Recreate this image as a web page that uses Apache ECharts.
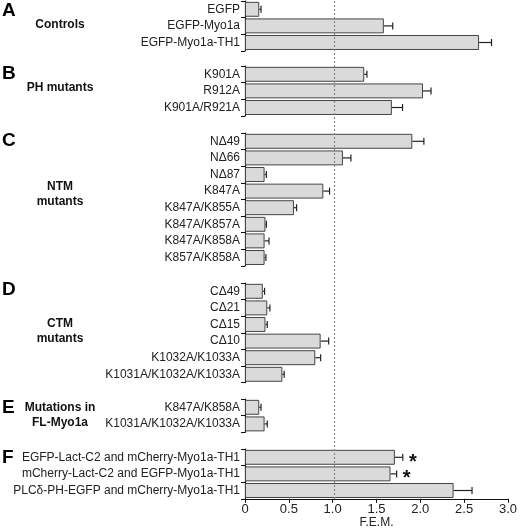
<!DOCTYPE html>
<html>
<head>
<meta charset="utf-8">
<script src="https://cdn.jsdelivr.net/npm/echarts@6/dist/echarts.min.js"></script>
<style>html,body{margin:0;padding:0;background:#fff;}#c{width:520px;height:530px;}</style>
</head>
<body>
<div id="c"></div>
<script>
// ---- Data ----
const catsA = ['EGFP', 'EGFP-Myo1a', 'EGFP-Myo1a-TH1'];
const valsA = [0.16, 1.56, 2.63];
const errsA = [0.02, 0.10, 0.14];

const catsB = ['K901A', 'R912A', 'K901A/R921A'];
const valsB = [1.34, 2.00, 1.65];
const errsB = [0.03, 0.09, 0.12];

const catsC = ['N\u039449', 'N\u039466', 'N\u039487', 'K847A', 'K847A/K855A', 'K847A/K857A', 'K847A/K858A', 'K857A/K858A'];
const valsC = [1.88, 1.10, 0.22, 0.88, 0.55, 0.23, 0.22, 0.22];
const errsC = [0.13, 0.09, 0.02, 0.07, 0.03, 0.01, 0.05, 0.015];

const catsD = ['C\u039449', 'C\u039421', 'C\u039415', 'C\u039410', 'K1032A/K1033A', 'K1031A/K1032A/K1033A'];
const valsD = [0.20, 0.25, 0.23, 0.85, 0.79, 0.42];
const errsD = [0.02, 0.03, 0.02, 0.09, 0.06, 0.02];

const catsE = ['K847A/K858A', 'K1031A/K1032A/K1033A'];
const valsE = [0.16, 0.22];
const errsE = [0.02, 0.03];

const catsF = ['EGFP-Lact-C2 and mCherry-Myo1a-TH1', 'mCherry-Lact-C2 and EGFP-Myo1a-TH1', 'PLC\u03b4-PH-EGFP and mCherry-Myo1a-TH1'];
const valsF = [1.71, 1.66, 2.38];
const errsF = [0.09, 0.07, 0.21];
const sigF = ['*', '*', ''];

const panelLetters = ['A', 'B', 'C', 'D', 'E', 'F'];
const groupNames = ['Controls', 'PH mutants', 'NTM\nmutants', 'CTM\nmutants', 'Mutations in\nFL-Myo1a', ''];
const xTicks = [0, 0.5, 1.0, 1.5, 2.0, 2.5, 3.0];
const xAxisName = 'F.E.M.';
const refLine = 1.0;

// ---- Build ----
const cats = [catsA, catsB, catsC, catsD, catsE, catsF];
const vals = [valsA, valsB, valsC, valsD, valsE, valsF];
const errs = [errsA, errsB, errsC, errsD, errsE, errsF];
const sigs = [[], [], [], [], [], sigF];

const gridTops = [1, 66, 133, 283, 399, 449];
const band = 16.6;
const gridLeft = 245, gridRight = 8;
const FONT = 'Liberation Sans, Arial, sans-serif';

const grids = [], xAxes = [], yAxes = [], series = [];
cats.forEach((c, i) => {
  grids.push({ left: gridLeft, right: gridRight, top: gridTops[i], height: band * c.length, containLabel: false });
  const isLast = i === cats.length - 1;
  xAxes.push({
    type: 'value', gridIndex: i, min: xTicks[0], max: xTicks[xTicks.length - 1], interval: xTicks[1] - xTicks[0],
    show: isLast,
    name: isLast ? xAxisName : '', nameLocation: 'middle', nameGap: 17,
    nameTextStyle: { color: '#222', fontSize: 12, fontFamily: FONT },
    axisLine: { show: isLast, lineStyle: { color: '#111', width: 1.2 } },
    axisTick: { show: isLast, length: 4, lineStyle: { color: '#111' } },
    splitLine: { show: false },
    axisLabel: {
      show: isLast, color: '#222', fontSize: 13, fontFamily: FONT, margin: 4,
      formatter: v => (v === 0 ? '0' : v.toFixed(1))
    }
  });
  yAxes.push({
    type: 'category', gridIndex: i, data: c, inverse: true,
    axisLine: { show: true, lineStyle: { color: '#111', width: 1.2 } },
    axisTick: { show: true, length: 4, lineStyle: { color: '#111' } },
    axisLabel: { color: '#222', fontSize: 12, fontFamily: FONT, margin: 5 },
    splitLine: { show: false }
  });
  series.push({
    type: 'bar', xAxisIndex: i, yAxisIndex: i, data: vals[i], barCategoryGap: '10%',
    itemStyle: { color: '#dadada', borderColor: '#444', borderWidth: 1 },
    silent: true, animation: false
  });
  const ed = vals[i].map((v, k) => [v, k, errs[i][k], sigs[i][k] || '']);
  series.push({
    type: 'custom', xAxisIndex: i, yAxisIndex: i, data: ed, animation: false, silent: true,
    encode: { x: 0, y: 1 },
    renderItem: function (params, api) {
      const v = api.value(0), k = api.value(1), e = api.value(2);
      const p0 = api.coord([v, k]);
      const p1 = api.coord([v + e, k]);
      const capH = 3.5;
      const children = [
        { type: 'line', shape: { x1: p0[0], y1: p0[1], x2: p1[0], y2: p1[1] }, style: { stroke: '#222', lineWidth: 1.2 } },
        { type: 'line', shape: { x1: p1[0], y1: p1[1] - capH, x2: p1[0], y2: p1[1] + capH }, style: { stroke: '#222', lineWidth: 1.2 } }
      ];
      const s = ed[params.dataIndex][3];
      if (s) {
        children.push({ type: 'text', style: { text: s, x: p1[0] + 10, y: p1[1] + 5, font: 'bold 20px ' + FONT, fill: '#111', textAlign: 'center', textVerticalAlign: 'middle' } });
      }
      return { type: 'group', children: children };
    }
  });
});

// overlay grid for continuous dotted reference line
grids.push({ left: gridLeft, right: gridRight, top: 0, bottom: 530 - 499 });
xAxes.push({ type: 'value', gridIndex: 6, min: 0, max: 3, show: false, splitLine: { show: false } });
yAxes.push({ type: 'value', gridIndex: 6, min: 0, max: 1, show: false, splitLine: { show: false } });
series.push({
  type: 'line', xAxisIndex: 6, yAxisIndex: 6, data: [], silent: true, animation: false,
  markLine: {
    symbol: 'none', silent: true, animation: false, label: { show: false },
    lineStyle: { color: '#888', type: [2, 2], width: 1.2 },
    data: [{ xAxis: refLine }]
  }
});

// panel letters & group labels
const letterY = [11, 74, 141, 290, 408, 458];
const groupY = [25, 88, 194, 331, 415, 0];
const graphics = [];
panelLetters.forEach((L, i) => {
  graphics.push({ type: 'text', left: 2, top: letterY[i] - 10, style: { text: L, font: 'bold 19px ' + FONT, fill: '#000' } });
  if (groupNames[i]) {
    graphics.push({
      type: 'text', x: 60, y: groupY[i], style: {
        text: groupNames[i], font: 'bold 12px ' + FONT, fill: '#111',
        textAlign: 'center', textVerticalAlign: 'middle', lineHeight: 15
      }
    });
  }
});

const chart = echarts.init(document.getElementById('c'), null, { renderer: 'canvas' });
chart.setOption({
  animation: false,
  grid: grids, xAxis: xAxes, yAxis: yAxes, series: series, graphic: graphics
});
</script>
</body>
</html>
